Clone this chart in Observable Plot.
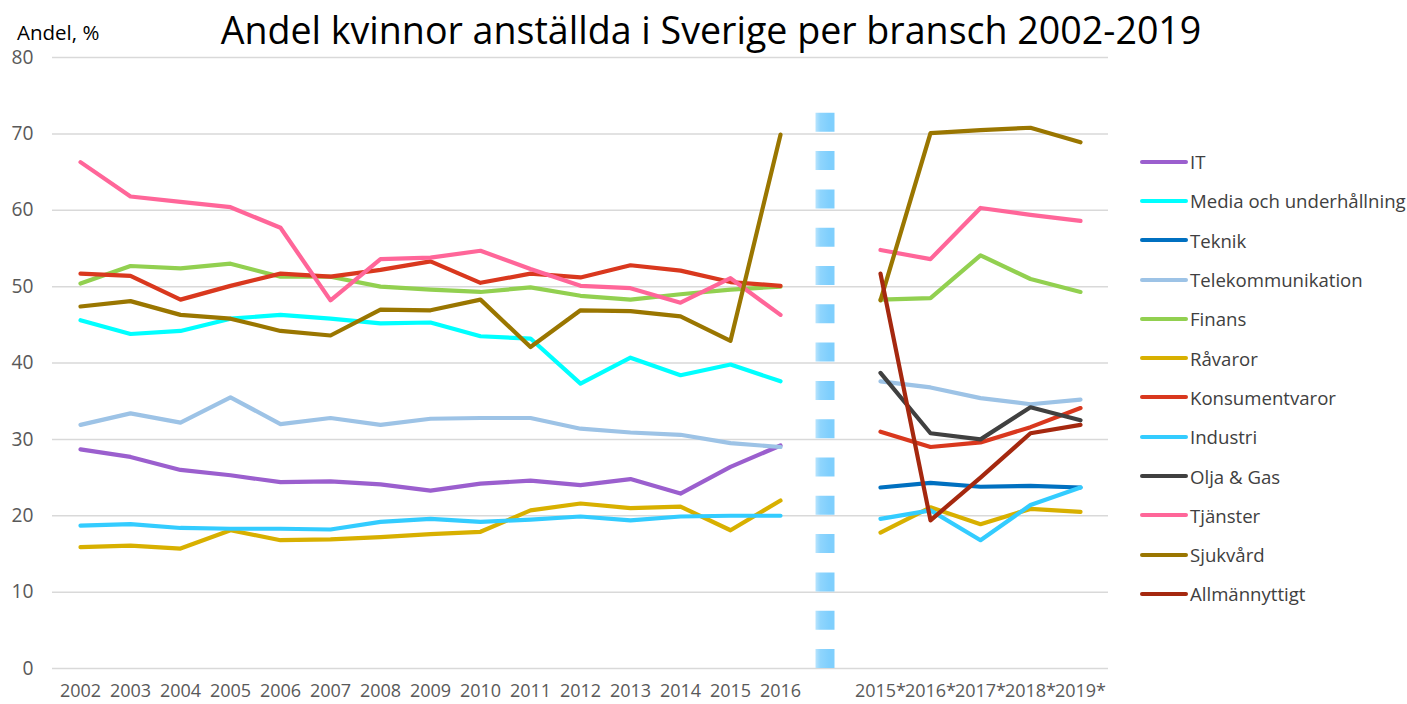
<!DOCTYPE html>
<html>
<head>
<meta charset="utf-8">
<script src="https://cdn.jsdelivr.net/npm/d3@7"></script>
<script src="https://cdn.jsdelivr.net/npm/@observablehq/plot@0.6"></script>
<style>
  html, body { margin: 0; padding: 0; background: #fff; }
  #wrap { position: relative; width: 1407px; height: 704px; overflow: hidden; font-family: 'Segoe UI', 'Open Sans', sans-serif; }
  #title { position: absolute; left: 0; width: 1422px; top: 4px; text-align: center; font-size: 37.6px; color: #000; white-space: nowrap; }
  #ylabel { position: absolute; left: 17px; top: 18px; font-size: 20.5px; color: #000; }
  #chart { position: absolute; left: 0; top: 0; }
  #legend { position: absolute; left: 1140px; top: 142px; font-size: 18.6px; color: #404040; }
  .item { height: 39.3px; display: flex; align-items: center; white-space: nowrap; }
  .item svg { display: block; margin-right: 1px; }
</style>
</head>
<body>
<div id="wrap">
  <div id="chart"></div>
  <div id="title">Andel kvinnor anställda i Sverige per bransch 2002-2019</div>
  <div id="ylabel">Andel, %</div>
  <div id="legend"></div>
</div>
<script>
// ---- Data ----
const leftYears = ["2002","2003","2004","2005","2006","2007","2008","2009","2010","2011","2012","2013","2014","2015","2016"];
const gapLabel = "";
const rightYears = ["2015*","2016*","2017*","2018*","2019*"];
const categories = [...leftYears, gapLabel, ...rightYears];

const seriesNames = ["IT","Media och underhållning","Teknik","Telekommunikation","Finans","Råvaror","Konsumentvaror","Industri","Olja & Gas","Tjänster","Sjukvård","Allmännyttigt"];
const seriesColors = ["#9B5FCE","#00FFFF","#0070C0","#9DC3E6","#92D050","#D8B000","#D9381E","#33CCFF","#404040","#FF6699","#9A7600","#A5280F"];

// 2002–2016
const itLeft        = [28.7,27.7,26.0,25.3,24.4,24.5,24.1,23.3,24.2,24.6,24.0,24.8,22.9,26.4,29.2];
const mediaLeft     = [45.6,43.8,44.2,45.8,46.3,45.8,45.2,45.3,43.5,43.2,37.3,40.7,38.4,39.8,37.6];
const telekomLeft   = [31.9,33.4,32.2,35.5,32.0,32.8,31.9,32.7,32.8,32.8,31.4,30.9,30.6,29.5,29.0];
const finansLeft    = [50.4,52.7,52.4,53.0,51.3,51.3,50.0,49.6,49.3,49.9,48.8,48.3,49.0,49.6,50.0];
const ravarorLeft   = [15.9,16.1,15.7,18.1,16.8,16.9,17.2,17.6,17.9,20.7,21.6,21.0,21.2,18.1,22.0];
const konsumentLeft = [51.7,51.4,48.3,50.1,51.7,51.3,52.2,53.3,50.5,51.7,51.2,52.8,52.1,50.6,50.1];
const industriLeft  = [18.7,18.9,18.4,18.3,18.3,18.2,19.2,19.6,19.2,19.5,19.9,19.4,19.9,20.0,20.0];
const tjansterLeft  = [66.3,61.8,61.1,60.4,57.7,48.2,53.6,53.8,54.7,52.3,50.1,49.8,47.9,51.1,46.3];
const sjukvardLeft  = [47.4,48.1,46.3,45.8,44.2,43.6,47.0,46.9,48.3,42.1,46.9,46.8,46.1,42.9,69.9];

// 2015*–2019*
const teknikRight    = [23.7,24.3,23.8,23.9,23.7];
const telekomRight   = [37.6,36.8,35.4,34.6,35.2];
const finansRight    = [48.3,48.5,54.1,51.0,49.3];
const ravarorRight   = [17.8,21.1,18.9,20.9,20.5];
const konsumentRight = [31.0,29.0,29.6,31.6,34.1];
const industriRight  = [19.6,20.7,16.8,21.4,23.7];
const oljaRight      = [38.7,30.8,30.0,34.2,32.5];
const tjansterRight  = [54.8,53.6,60.3,59.4,58.6];
const sjukvardRight  = [48.2,70.1,70.5,70.8,68.9];
const allmanRight    = [51.7,19.4,25.0,30.8,31.9];

const yTicks = [0,10,20,30,40,50,60,70,80];
const separatorTop = 72.9;

// ---- Build table ----
const leftData  = [itLeft, mediaLeft, null, telekomLeft, finansLeft, ravarorLeft, konsumentLeft, industriLeft, null, tjansterLeft, sjukvardLeft, null];
const rightData = [null, null, teknikRight, telekomRight, finansRight, ravarorRight, konsumentRight, industriRight, oljaRight, tjansterRight, sjukvardRight, allmanRight];

const rows = [];
seriesNames.forEach((name, i) => {
  if (leftData[i]) leftData[i].forEach((v, j) => rows.push({series: name, seg: name + "|L", cat: leftYears[j], value: v}));
  if (rightData[i]) rightData[i].forEach((v, j) => rows.push({series: name, seg: name + "|R", cat: rightYears[j], value: v}));
});

const plot = Plot.plot({
  width: 1407,
  height: 704,
  marginLeft: 52,
  marginRight: 299,
  marginTop: 57,
  marginBottom: 36,
  style: {fontFamily: "'Segoe UI','Open Sans',sans-serif", fontSize: "18px", background: "transparent", overflow: "visible"},
  x: {type: "point", domain: categories, padding: 0.5},
  y: {domain: [0, 80]},
  color: {domain: seriesNames, range: seriesColors},
  marks: [
    Plot.gridY(yTicks, {stroke: "#d9d9d9", strokeOpacity: 1, strokeWidth: 1.5}),
    (index, scales) => {
      const cx = scales.x(gapLabel) - 5.5;
      const ns = "http://www.w3.org/2000/svg";
      const defs = document.createElementNS(ns, "defs");
      const g = document.createElementNS(ns, "linearGradient");
      g.setAttribute("id", "sepGrad");
      g.setAttribute("gradientUnits", "userSpaceOnUse");
      g.setAttribute("x1", cx - 9.5); g.setAttribute("x2", cx + 9.5);
      g.setAttribute("y1", 0); g.setAttribute("y2", 0);
      [["0", "#E6F5FE"], ["0.55", "#8FD5FD"], ["1", "#7FCFFD"]].forEach(([o, c]) => {
        const s = document.createElementNS(ns, "stop");
        s.setAttribute("offset", o); s.setAttribute("stop-color", c);
        g.appendChild(s);
      });
      defs.appendChild(g);
      return defs;
    },
    Plot.ruleX([gapLabel], {y1: 0, y2: separatorTop, dx: -5.5, stroke: "url(#sepGrad)", strokeWidth: 19, strokeDasharray: "19,19.3"}),
    Plot.axisY(yTicks, {tickSize: 0, tickPadding: 19, color: "#595959", fontSize: 19.2, label: null}),
    Plot.axisX({tickSize: 0, tickPadding: 16, color: "#595959", fontSize: 18, label: null}),
    Plot.line(rows, {x: "cat", y: "value", z: "seg", stroke: "series", strokeWidth: 4.2, strokeLinejoin: "round", strokeLinecap: "round"})
  ]
});
document.getElementById("chart").appendChild(plot);

// ---- Legend ----
const legend = document.getElementById("legend");
seriesNames.forEach((name, i) => {
  const item = document.createElement("div");
  item.className = "item";
  item.innerHTML = `<svg width="49" height="8"><line x1="2" y1="4" x2="46" y2="4" stroke="${seriesColors[i]}" stroke-width="4" stroke-linecap="round"/></svg><span>${name}</span>`;
  legend.appendChild(item);
});
</script>
</body>
</html>
